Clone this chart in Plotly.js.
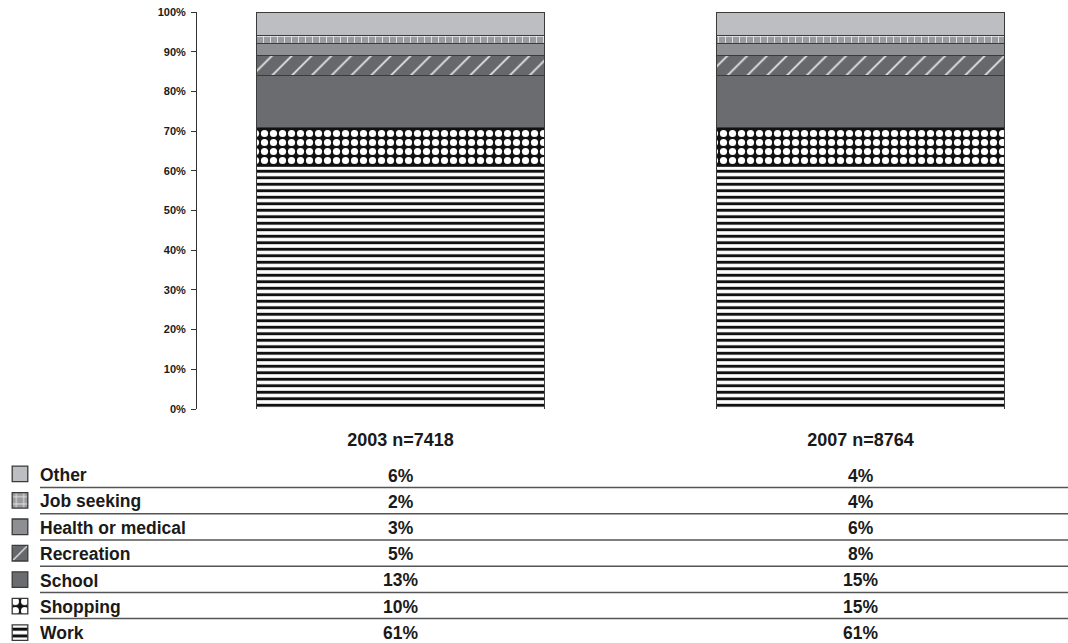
<!DOCTYPE html>
<html>
<head>
<meta charset="utf-8">
<script src="https://cdn.plot.ly/plotly-3.0.1.min.js"></script>
<style>
html,body{margin:0;padding:0;background:#fff;}
#chart{width:1068px;height:643px;}
</style>
</head>
<body>
<div id="chart"></div>
<script>
// Data
const groups = ['2003 n=7418', '2007 n=8764'];
const purposes = ['Work', 'Shopping', 'School', 'Recreation', 'Health or medical', 'Job seeking', 'Other'];
// Bar segment heights (both bars drawn identically)
const bar2003 = [61, 10, 13, 5, 3, 2, 6];
const bar2007 = [61, 10, 13, 5, 3, 2, 6];
// Table values as printed below the chart
const table2003 = ['61%', '10%', '13%', '5%', '3%', '2%', '6%'];
const table2007 = ['61%', '15%', '15%', '8%', '6%', '4%', '4%'];
const yTicks = [0, 10, 20, 30, 40, 50, 60, 70, 80, 90, 100];

// Styles
const FONT = 'Liberation Sans, Arial, sans-serif';
const styles = [
  {color: '#ffffff', pattern: {shape: '-', fgcolor: '#111111', bgcolor: '#ffffff', size: 6.5, solidity: 0.45}},
  {color: '#111111', pattern: {shape: '.', fgcolor: '#ffffff', bgcolor: '#111111', size: 9, solidity: 0.5}},
  {color: '#6b6c70', pattern: {shape: ''}},
  {color: '#67686c', pattern: {shape: '/', fgcolor: '#e8e8e8', bgcolor: '#67686c', size: 14, solidity: 0.12}},
  {color: '#8e8f93', pattern: {shape: ''}},
  {color: '#9a9b9f', pattern: {shape: '+', fgcolor: '#f2f2f2', bgcolor: '#9a9b9f', size: 7, solidity: 0.2}},
  {color: '#bdbec2', pattern: {shape: ''}}
];

const W = 1068, H = 643;
const mL = 197, mR = 4, mT = 12, mB = 234;
const pw = W - mL - mR, ph = H - mT - mB;
const rowY0 = 475.5, rowStep = 26.2; // pixel centers of table rows (top = Other)
const py = (pix) => (H - mB - pix) / ph;
const px = (pix) => (pix - mL) / pw;

const traces = purposes.map((p, i) => ({
  type: 'bar',
  name: p,
  x: groups,
  y: [bar2003[i], bar2007[i]],
  legendgroup: 'g' + i,
  legendrank: purposes.length - i,
  marker: {
    color: styles[i].color,
    pattern: styles[i].pattern,
    line: {color: '#3a3a3a', width: 1}
  },
  hoverinfo: 'skip'
}));

const annotations = [];
const shapes = [];
// Table rows: top = Other ... bottom = Work
for (let r = 0; r < purposes.length; r++) {
  const i = purposes.length - 1 - r;
  const yc = rowY0 + r * rowStep;
  annotations.push({xref: 'x', yref: 'paper', x: groups[0], y: py(yc), text: table2003[i],
    showarrow: false, xanchor: 'center', yanchor: 'middle', font: {size: 17.5, color: '#1a1a1a', family: FONT, weight: 'bold'}});
  annotations.push({xref: 'x', yref: 'paper', x: groups[1], y: py(yc), text: table2007[i],
    showarrow: false, xanchor: 'center', yanchor: 'middle', font: {size: 17.5, color: '#1a1a1a', family: FONT, weight: 'bold'}});
  if (r < purposes.length - 1) {
    const ly = yc + rowStep / 2 - 1;
    shapes.push({type: 'line', xref: 'paper', yref: 'paper', x0: px(40), x1: px(1068), y0: py(ly), y1: py(ly),
      line: {color: '#555555', width: 1.5}});
  }
}

const layout = {
  width: W, height: H,
  margin: {l: mL, r: mR, t: mT, b: mB},
  paper_bgcolor: '#ffffff', plot_bgcolor: '#ffffff',
  barmode: 'stack',
  bargap: 0.376,
  showlegend: true,
  legend: {
    xref: 'container', yref: 'container',
    x: 0, xanchor: 'left',
    y: 1 - 456 / H, yanchor: 'top',
    indentation: 0,
    traceorder: 'grouped',
    tracegroupgap: 0.7,
    font: {size: 17.5, color: '#1a1a1a', family: FONT, weight: 'bold'},
    itemclick: false, itemdoubleclick: false,
    bgcolor: 'rgba(0,0,0,0)'
  },
  xaxis: {
    type: 'category',
    range: [-0.4424, 1.4424],
    showline: false, showgrid: false, zeroline: false,
    ticks: '', ticklabelstandoff: 18,
    tickfont: {size: 18, color: '#1a1a1a', family: FONT, weight: 'bold'},
    fixedrange: true
  },
  yaxis: {
    range: [0, 100],
    tickvals: yTicks,
    ticktext: yTicks.map(v => v + '%'),
    showline: true, linecolor: '#333333', linewidth: 1,
    ticks: 'outside', ticklen: 5, tickcolor: '#333333', tickwidth: 1,
    showgrid: false, zeroline: false,
    tickfont: {size: 11, color: '#1a1a1a', family: FONT, weight: 'bold'},
    ticklabelstandoff: 3,
    fixedrange: true
  },
  annotations: annotations,
  shapes: shapes
};

Plotly.newPlot('chart', traces, layout, {displayModeBar: false, staticPlot: true}).then(function (gd) {
  // enlarge the legend swatches a little
  gd.querySelectorAll('.legend .legendpoints path').forEach(function (p) {
    const t = p.getAttribute('transform') || '';
    p.setAttribute('transform', t + ' scale(1.3)');
  });
});
</script>
</body>
</html>
